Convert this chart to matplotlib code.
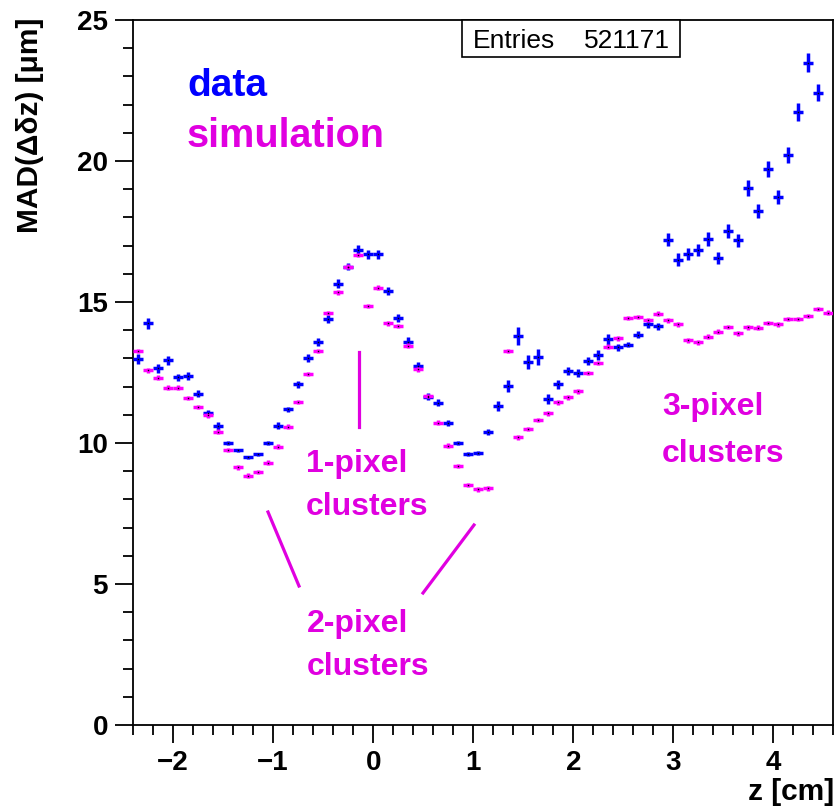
import numpy as np
import matplotlib
matplotlib.use("Agg")
import matplotlib.pyplot as plt
from matplotlib.ticker import MultipleLocator
from matplotlib.patches import Rectangle

# ---------------- data ----------------
z_centers = np.round(np.arange(-2.35, 4.56, 0.1), 2)

data_mad = [12.97, 14.24, 12.65, 12.93, 12.33, 12.37, 11.75, 11.05, 10.60, 9.99,
            9.74, 9.50, 9.60, 10.01, 10.61, 11.19, 12.08, 13.02, 13.59, 14.39,
            15.65, 16.25, 16.84, 16.70, 16.70, 15.40, 14.42, 13.59, 12.73, 11.64,
            11.43, 10.72, 9.99, 9.62, 9.66, 10.40, 11.32, 12.02, 13.79, 12.88,
            13.04, 11.56, 12.08, 12.56, 12.47, 12.92, 13.12, 13.68, 13.39, 13.49,
            13.84, 14.21, 14.14, 17.20, 16.49, 16.71, 16.84, 17.23, 16.56, 17.53,
            17.19, 19.03, 18.24, 19.72, 18.73, 20.21, 21.73, 23.49, 22.42, np.nan]
data_err = [0.17, 0.20, 0.16, 0.17, 0.12, 0.14, 0.12, 0.12, 0.14, 0.07,
            0.05, 0.05, 0.06, 0.07, 0.12, 0.10, 0.12, 0.14, 0.14, 0.14,
            0.17, 0.12, 0.17, 0.16, 0.16, 0.14, 0.14, 0.17, 0.14, 0.12,
            0.12, 0.10, 0.07, 0.07, 0.07, 0.10, 0.17, 0.20, 0.32, 0.25,
            0.28, 0.17, 0.17, 0.14, 0.14, 0.14, 0.17, 0.20, 0.12, 0.10,
            0.12, 0.14, 0.12, 0.23, 0.23, 0.21, 0.21, 0.25, 0.23, 0.25,
            0.23, 0.28, 0.25, 0.28, 0.25, 0.28, 0.31, 0.35, 0.31, np.nan]

sim_mad = [13.26, 12.58, 12.32, 11.96, 11.96, 11.60, 11.27, 10.98, 10.40, 9.75,
           9.14, 8.84, 8.97, 9.30, 9.87, 10.58, 11.46, 12.45, 13.27, 14.61,
           15.34, 16.25, 16.67, 14.86, 15.51, 14.24, 14.15, 13.45, 12.61, 11.67,
           10.72, 9.91, 9.18, 8.51, 8.36, 8.39, np.nan, 13.26, 10.20, 10.49,
           10.82, 11.05, 11.44, 11.62, 11.83, 12.48, 12.84, 13.42, 13.71, 14.44,
           14.47, 14.36, 14.59, 14.35, 14.21, 13.64, 13.57, 13.77, 13.95, 14.12,
           13.89, 14.10, 14.09, 14.26, 14.21, 14.39, 14.39, 14.50, 14.76, 14.62]
sim_err = [0.08] * len(sim_mad)

bin_half_width = 0.05
entries = "521171"
x_ticks = [-2, -1, 0, 1, 2, 3, 4]
y_ticks = [0, 5, 10, 15, 20, 25]

# ---------------- style ----------------
W, H = 836, 806
BLUE = "#0000ff"
MAG = "#ff00ff"
MAGTXT = "#e000e0"
FONT = ["Liberation Sans", "DejaVu Sans"]
plt.rcParams["font.family"] = FONT

fig = plt.figure(figsize=(W / 100, H / 100), dpi=100)
ax = fig.add_axes([133 / W, 1 - 725 / H, (833.5 - 133) / W, (725 - 20) / H])

def fx(px):
    return px / W

def fy(py):
    return 1 - py / H

xerr = np.full(len(z_centers), bin_half_width)
ax.errorbar(z_centers, data_mad, xerr=xerr, yerr=data_err, fmt="none",
            ecolor=BLUE, elinewidth=2.5, capsize=0, zorder=3)
ax.errorbar(z_centers, sim_mad, xerr=xerr, yerr=sim_err, fmt="none",
            ecolor=MAG, elinewidth=2.5, capsize=0, zorder=4)
ax.plot(z_centers, data_mad, ls="none", marker="s", ms=1.0, mew=0,
        color="black", zorder=5)
ax.plot(z_centers, sim_mad, ls="none", marker="s", ms=1.0, mew=0,
        color="black", zorder=5)

ax.set_xlim(-2.4, 4.6)
ax.set_ylim(0, 25)
ax.set_xticks(x_ticks)
ax.set_yticks(y_ticks)
ax.set_xticklabels(["\u22122", "\u22121", "0", "1", "2", "3", "4"])
ax.xaxis.set_minor_locator(MultipleLocator(0.2))
ax.yaxis.set_minor_locator(MultipleLocator(1))
ax.tick_params(which="major", direction="out", length=13, width=1.3,
               labelsize=20, top=False, right=False, pad=5)
ax.tick_params(which="minor", direction="out", length=7, width=1.3,
               top=False, right=False)
for lab in ax.get_xticklabels() + ax.get_yticklabels():
    lab.set_fontweight("bold")
for sp in ax.spines.values():
    sp.set_linewidth(1.3)

# axis titles
fig.text(fx(30), fy(18), "MAD(\u0394\u03b4z) [\u03bcm]", rotation=90,
         ha="center", va="top", fontsize=21.5, fontweight="bold")
fig.text(fx(834), fy(800), "z [cm]", ha="right", va="baseline",
         fontsize=21.5, fontweight="bold")

# stats box
fig.patches.append(Rectangle((fx(462), fy(57)), (680 - 462) / W, (57 - 20) / H,
                             transform=fig.transFigure, facecolor="white",
                             edgecolor="black", linewidth=1.2, zorder=10))
fig.text(fx(473), fy(48), "Entries", ha="left", va="baseline", fontsize=19,
         zorder=11)
fig.text(fx(670), fy(48), entries, ha="right", va="baseline", fontsize=19,
         zorder=11)

# legend texts
fig.text(fx(187), fy(96), "data", color=BLUE, fontsize=28, fontweight="bold",
         va="baseline", ha="left")
fig.text(fx(187), fy(147), "simulation", color=MAGTXT, fontsize=28.5,
         fontweight="bold", va="baseline", ha="left")

# annotations
def two_lines(px, py1, py2, t1, t2):
    fig.text(fx(px), fy(py1), t1, color=MAGTXT, fontsize=23,
             fontweight="bold", va="baseline", ha="left")
    fig.text(fx(px), fy(py2), t2, color=MAGTXT, fontsize=23,
             fontweight="bold", va="baseline", ha="left")

two_lines(306, 472, 515, "1-pixel", "clusters")
two_lines(307, 632, 675, "2-pixel", "clusters")
two_lines(662, 415, 462, "3-pixel", "clusters")

def seg(p0, p1):
    fig.add_artist(plt.Line2D([fx(p0[0]), fx(p1[0])], [fy(p0[1]), fy(p1[1])],
                              transform=fig.transFigure, color=MAGTXT, lw=2.3))

seg((359, 352), (359, 427))
seg((268, 512), (299, 586))
seg((474, 525), (423, 593))

fig.savefig("out.png", dpi=100)
